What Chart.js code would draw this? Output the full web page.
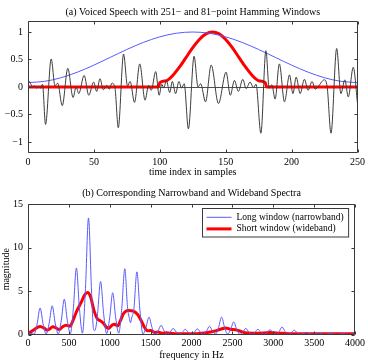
<!DOCTYPE html>
<html>
<head>
<meta charset="utf-8">
<script src="https://cdn.jsdelivr.net/npm/chart.js@4.4.1/dist/chart.umd.min.js"></script>
<style>
  body { margin: 0; background: #fff; }
  canvas { position: absolute; left: 0; }
  #speechChart { top: 0; }
  #spectrumChart { top: 180px; }
</style>
</head>
<body>
<canvas id="speechChart" width="368" height="180"></canvas>
<canvas id="spectrumChart" width="368" height="183"></canvas>
<script>
// (a) speech segment, samples 0..250
const speechN = [0, 2, 3.5, 5, 6.5, 8, 9.5, 11, 13.3, 17.6, 20.5, 22.5, 26, 30.2, 34.2, 36.5, 38.5, 42.6, 46.1,
  49.8, 52.1, 54.6, 57.2, 59.7, 61.7, 63.7, 66,
  68.5, 72.5, 75.5, 77.5, 80.8, 84.8, 88.8, 91.5, 93.5, 96.9, 99.5, 101.5, 103, 105, 107.5, 109.5, 112, 114.5,
  116.5, 118.5,
  121.7, 126, 129, 131, 134.7, 139, 144.5, 150.3, 153.5, 156.6, 159.6, 163, 165.5, 168.5, 171, 173,
  176.7, 180.5, 183, 185, 187.5, 190.7, 194.6, 198.4, 201, 203.5, 206.5, 209.7, 212.5, 215.5, 218, 220.5, 224.8, 227,
  229.9, 234.2, 237.4, 240.4, 243, 246.8, 250];
const speechV = [0.13, 0.06, 0.0, 0.02, -0.02, 0.01, -0.02, 0.05, -0.68, 0.51, 0.02, 0.07, -0.34, 0.34, -0.19, 0.0, -0.12, 0.21, -0.15,
  0.09, -0.08, 0.15, -0.05, 0.03, -0.04, 0.07, -0.02,
  -0.74, 0.6, 0.02, 0.1, -0.28, 0.42, -0.24, 0.03, -0.06, 0.28, -0.15, 0.05, -0.02, 0.12, -0.1, 0.1, -0.12, 0.1,
  -0.02, 0.06,
  -0.76, 0.56, 0.0, 0.06, -0.27, 0.4, -0.3, 0.27, -0.15, 0.12, -0.08, 0.14, -0.03, 0.09, -0.01, 0.05,
  -0.84, 0.66, -0.02, 0.04, -0.22, 0.42, -0.27, 0.22, -0.12, 0.18, -0.12, 0.14, -0.06, 0.1, -0.04, 0.02, 0.13, 0.0,
  -0.84, 0.7, -0.12, 0.13, -0.18, 0.36, -0.3];

// 251-point Hamming window
const longWinN = [0, 12.5, 25, 37.5, 50, 62.5, 75, 87.5, 100, 112.5, 125, 137.5, 150, 162.5, 175, 187.5, 200, 212.5, 225, 237.5, 250];
const longWinV = [0.08, 0.103, 0.168, 0.27, 0.398, 0.54, 0.682, 0.81, 0.912, 0.977, 1, 0.977, 0.912, 0.81, 0.682, 0.54, 0.398, 0.27, 0.168, 0.103, 0.08];

// 81-point Hamming window at samples 100..180
const shortWinN = [0, 99, 100, 105, 110, 115, 120, 125, 130, 135, 140, 145, 150, 155, 160, 165, 170, 175, 180, 181, 250];
const shortWinV = [0, 0, 0.08, 0.115, 0.215, 0.364, 0.54, 0.716, 0.865, 0.965, 1, 0.965, 0.865, 0.716, 0.54, 0.364, 0.215, 0.115, 0.08, 0, 0];

const speechTicksX = [0, 50, 100, 150, 200, 250];
const speechTicksY = [-1, -0.5, 0, 0.5, 1];

// (b) narrowband spectrum (long window)
const narrowFreq = [0, 74, 111, 148, 185, 222, 259, 296, 333, 370, 407, 444, 481, 518, 555, 592, 629, 666, 703, 740, 777,
  800, 814, 830, 851, 888, 925, 962, 999, 1036, 1073, 1110, 1147, 1184, 1217, 1240, 1254, 1268, 1295, 1332, 1369,
  1406, 1443, 1480, 1517, 1554, 1591, 1628, 1665, 1702, 1739, 1776, 1813, 1850, 1887, 1924, 1961, 1998, 2035, 2072,
  2109, 2146, 2183, 2220, 2257, 2294, 2331, 2368, 2405, 2442, 2479, 2516, 2553, 2590, 2627, 2664, 2701, 2738, 2775,
  2812, 2849, 2886, 2923, 2960, 2997, 3034, 3071, 3108, 3145, 3182, 3219, 3256, 3293, 3330, 3367, 3404, 3441, 3478,
  3515, 3552, 3589, 3626, 3663, 3700, 3737, 3774, 3811, 3848, 3885, 3922, 3959, 3996, 4000];
const narrowMag = [0.2, 0.04, 1.2, 3.05, 1.2, 0.05, 1.3, 3.3, 1.3, 0.05, 1.6, 4.05, 1.6, 0.08, 3.0, 7.65, 3.0, 0.15, 5.3, 13.4, 5.0,
  0.7, 0.45, 0.8, 2.4, 6.1, 2.4, 0.1, 1.9, 4.8, 1.9, 0.15, 3.0, 7.55, 3.2, 1.85, 1.35, 1.9, 2.9, 7.2, 2.8,
  0.05, 0.8, 2.0, 0.8, 0.03, 0.42, 1.05, 0.42, 0.03, 0.28, 0.7, 0.28, 0.03, 0.24, 0.6, 0.24, 0.03, 0.26, 0.65,
  0.26, 0.03, 0.38, 0.95, 0.38, 0.05, 0.8, 2.0, 0.8, 0.05, 0.58, 1.45, 0.58, 0.03, 0.28, 0.7, 0.28, 0.02, 0.24,
  0.6, 0.24, 0.02, 0.22, 0.55, 0.22, 0.02, 0.34, 0.85, 0.34, 0.02, 0.2, 0.5, 0.2, 0.02, 0.1, 0.25, 0.1, 0.02,
  0.08, 0.2, 0.08, 0.01, 0.05, 0.12, 0.05, 0.01, 0.04, 0.1, 0.04, 0.01, 0.03, 0.08, 0.08];

// wideband spectrum (short window)
const wideFreq = [0, 60, 121, 149, 201, 234, 262, 302, 342, 383, 423, 463, 512, 544, 592, 644, 697, 729, 765, 806, 846,
  886, 926, 955, 987, 1027, 1059, 1096, 1128, 1168, 1228, 1289, 1341, 1382, 1422, 1462, 1502, 1551, 1591, 1639,
  1692, 1793, 1913, 2074, 2195, 2276, 2356, 2417, 2477, 2538, 2598, 2658, 2800, 2960, 3081, 3202, 3686, 4000];
const wideMag = [0.1, 0.45, 0.85, 0.92, 0.7, 0.5, 0.6, 0.88, 0.77, 0.55, 0.88, 1.07, 0.96, 1.46, 2.6, 3.57, 4.6, 4.83, 4.33, 2.8, 1.84,
  1.57, 1.27, 0.88, 0.7, 1.07, 1.19, 1.0, 1.53, 2.4, 2.76, 2.68, 2.3, 1.65, 0.88, 0.42, 0.46, 0.23, 0.3, 0.15,
  0.2, 0.08, 0.1, 0.1, 0.22, 0.38, 0.6, 0.75, 0.6, 0.55, 0.38, 0.2, 0.15, 0.22, 0.15, 0.1, 0.08, 0.08];

const spectrumTicksX = [0, 500, 1000, 1500, 2000, 2500, 3000, 3500, 4000];
const spectrumTicksY = [0, 5, 10, 15];

const serif = "'Liberation Serif', 'Times New Roman', serif";
const font = { family: serif, size: 10, weight: 'normal' };
const legendSize = 9.5;
const axisColor = '#3a3a3a';

function points(xs, ys) {
  return xs.map((x, i) => ({ x: x, y: ys[i] }));
}

function fmt(v) {
  return v < 0 ? '\u2212' + Math.abs(v) : String(v);
}

function fixedTicks(list) {
  return scale => { scale.ticks = list.map(value => ({ value })); };
}

// axes box with inward ticks on all four sides
const boxTicks = {
  id: 'boxTicks',
  afterDatasetsDraw(chart) {
    const { ctx, chartArea: a, scales: { x, y } } = chart;
    const L = Math.round(a.left) + 0.5, R = Math.round(a.right) - 0.5;
    const T = Math.round(a.top) + 0.5, B = Math.round(a.bottom) - 0.5;
    const len = 3;
    ctx.save();
    ctx.strokeStyle = axisColor;
    ctx.lineWidth = 1;
    ctx.beginPath();
    ctx.rect(L, T, R - L, B - T);
    for (const t of x.ticks) {
      const px = Math.round(x.getPixelForValue(t.value)) + 0.5;
      ctx.moveTo(px, B); ctx.lineTo(px, B - len);
      ctx.moveTo(px, T); ctx.lineTo(px, T + len);
    }
    for (const t of y.ticks) {
      const py = Math.round(y.getPixelForValue(t.value)) + 0.5;
      ctx.moveTo(L, py); ctx.lineTo(L + len, py);
      ctx.moveTo(R, py); ctx.lineTo(R - len, py);
    }
    ctx.stroke();
    ctx.restore();
  }
};

// boxed legend in the upper right corner of the plot
const boxLegend = {
  id: 'boxLegend',
  afterDraw(chart) {
    const { ctx, chartArea: a } = chart;
    const sets = chart.data.datasets;
    ctx.save();
    ctx.font = legendSize + 'px ' + serif;
    const textW = Math.max(...sets.map(d => ctx.measureText(d.label).width));
    const lineLen = 25, padL = 4, gap = 5, padR = 5, rowH = 11.6;
    const w = padL + lineLen + gap + textW + padR;
    const h = 28.5;
    const left = Math.round(a.right - 6.5 - w) + 0.5;
    const top = Math.round(a.top + 3.5) + 0.5;
    ctx.fillStyle = '#fff';
    ctx.fillRect(left, top, w, h);
    ctx.strokeStyle = axisColor;
    ctx.lineWidth = 1;
    ctx.strokeRect(left, top, w, h);
    sets.forEach((d, i) => {
      const cy = top + 8.8 + i * rowH;
      ctx.beginPath();
      ctx.strokeStyle = d.borderColor;
      ctx.lineWidth = d.borderWidth;
      ctx.moveTo(left + padL, cy);
      ctx.lineTo(left + padL + lineLen, cy);
      ctx.stroke();
      ctx.fillStyle = '#000';
      ctx.textBaseline = 'middle';
      ctx.textAlign = 'left';
      ctx.fillText(d.label, left + padL + lineLen + gap, cy);
    });
    ctx.restore();
  }
};

function baseScales(opts) {
  return {
    x: {
      type: 'linear',
      min: opts.xMin, max: opts.xMax,
      afterBuildTicks: fixedTicks(opts.xTicks),
      afterFit: s => { s.height = opts.xHeight; },
      border: { display: false },
      grid: { display: false, drawTicks: false },
      ticks: { font, color: '#000', padding: 3, maxRotation: 0, autoSkip: false, callback: fmt },
      title: { display: true, text: opts.xTitle, font, color: '#000', padding: { top: 0, bottom: 1.3 } }
    },
    y: {
      type: 'linear',
      min: opts.yMin, max: opts.yMax,
      afterBuildTicks: fixedTicks(opts.yTicks),
      afterFit: s => { s.width = 28; },
      border: { display: false },
      grid: opts.yGrid || { display: false, drawTicks: false },
      ticks: { font, color: '#000', padding: 5, autoSkip: false, callback: fmt },
      title: opts.yTitle
        ? { display: true, text: opts.yTitle, font, color: '#000', padding: { top: 0.7, bottom: 0 } }
        : { display: false }
    }
  };
}

new Chart(document.getElementById('speechChart'), {
  type: 'line',
  data: {
    datasets: [
      { label: 'speech', data: points(speechN, speechV), borderColor: '#3c3c3c', borderWidth: 1,
        pointRadius: 0, cubicInterpolationMode: 'monotone' },
      { label: '251-point window', data: points(longWinN, longWinV), borderColor: '#5a5aff', borderWidth: 1,
        pointRadius: 0, cubicInterpolationMode: 'monotone' },
      { label: '81-point window', data: points(shortWinN, shortWinV), borderColor: '#ff0000', borderWidth: 3,
        pointRadius: 0, cubicInterpolationMode: 'monotone' }
    ]
  },
  options: {
    responsive: false,
    animation: false,
    layout: { padding: { left: 0, right: 9, top: 0, bottom: 0 } },
    plugins: {
      legend: { display: false },
      tooltip: { enabled: false },
      title: { display: true, fullSize: false,
        text: '(a) Voiced Speech with 251\u2212 and 81\u2212point Hamming Windows',
        font, color: '#000', padding: { top: 6, bottom: 3 } }
    },
    scales: baseScales({
      xMin: 0, xMax: 250, xTicks: speechTicksX, xHeight: 27, xTitle: 'time index in samples',
      yMin: -1.2, yMax: 1.2, yTicks: speechTicksY,
      // thin zero line across the plot
      yGrid: { display: true, drawTicks: false, lineWidth: 1,
        color: c => (c.tick && c.tick.value === 0 ? '#505050' : 'rgba(0,0,0,0)') }
    })
  },
  plugins: [boxTicks]
});

new Chart(document.getElementById('spectrumChart'), {
  type: 'line',
  data: {
    datasets: [
      { label: 'Long window (narrowband)', data: points(narrowFreq, narrowMag), borderColor: '#5a5aff', borderWidth: 1,
        pointRadius: 0, cubicInterpolationMode: 'monotone' },
      { label: 'Short window (wideband)', data: points(wideFreq, wideMag), borderColor: '#ff0000', borderWidth: 3,
        pointRadius: 0, cubicInterpolationMode: 'monotone' }
    ]
  },
  options: {
    responsive: false,
    animation: false,
    layout: { padding: { left: 0, right: 9, top: 0, bottom: 0 } },
    plugins: {
      legend: { display: false },
      tooltip: { enabled: false },
      title: { display: true, fullSize: false,
        text: '(b) Corresponding Narrowband and Wideband Spectra',
        font, color: '#000', padding: { top: 7, bottom: 5 } }
    },
    scales: baseScales({
      xMin: 0, xMax: 4000, xTicks: spectrumTicksX, xHeight: 28.5, xTitle: 'frequency in Hz',
      yMin: 0, yMax: 15, yTicks: spectrumTicksY, yTitle: 'magnitude'
    })
  },
  plugins: [boxTicks, boxLegend]
});
</script>
</body>
</html>
